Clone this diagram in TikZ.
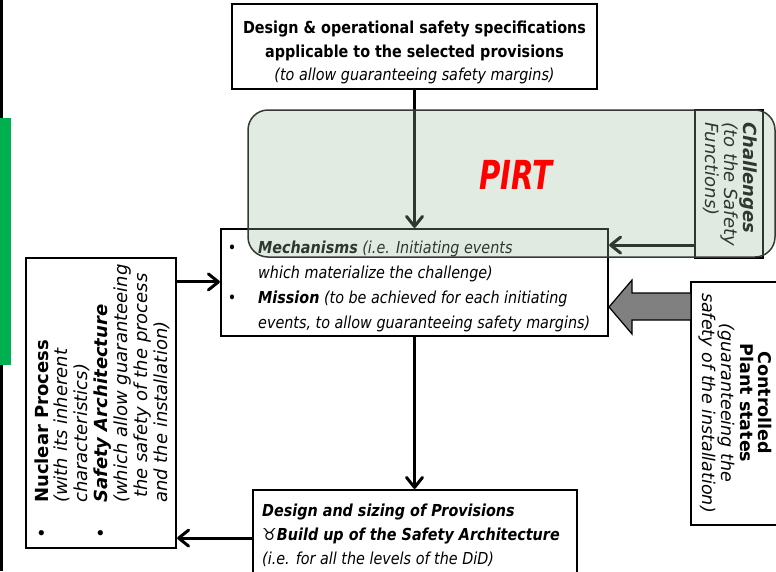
\documentclass[tikz,border=0pt]{standalone}
\usepackage{fontspec}
\setmainfont{DejaVu Sans}[FakeStretch=0.87]
\newfontfamily\plainsans{DejaVu Sans}
\usetikzlibrary{arrows.meta,fit}
\definecolor{pirtfill}{RGB}{158,188,158}
\definecolor{pirtedge}{RGB}{50,58,50}
\definecolor{blockgray}{RGB}{128,128,128}
\definecolor{sidegreen}{RGB}{0,176,80}
\definecolor{pirtred}{RGB}{255,0,0}

\begin{document}
\begin{tikzpicture}[x=1pt,y=-1pt,
  frame/.style={draw=black,line width=2.2pt,fill=white,inner sep=0pt},
  flow/.style={line width=3pt,-{Straight Barb[length=10pt,width=16pt,round]}},
  lline/.style={inner sep=0pt,anchor=base west,font=\fontsize{16.5}{20}\selectfont},
  cline/.style={inner sep=0pt,anchor=base,font=\fontsize{16.5}{20}\selectfont},
  nline/.style={inner sep=0pt,anchor=base west,rotate=90,font=\plainsans\fontsize{18}{20}\selectfont},
  nbullet/.style={inner sep=0pt,anchor=base,rotate=90,font=\plainsans\fontsize{18}{20}\selectfont},
  sline/.style={inner sep=0pt,anchor=base,rotate=-90,font=\plainsans\fontsize{17.5}{20}\selectfont},
  hline/.style={inner sep=0pt,anchor=base west,rotate=-90,font=\plainsans\fontsize{18}{20}\selectfont}
]
\useasboundingbox (0,0) rectangle (776,571);
\clip (0,0) rectangle (776,571);

% left margin strip
\fill[black] (0,0) rectangle (3,571);
\fill[sidegreen] (0,118) rectangle (11,365);

% boxes
\node[frame,fit={(232,4)(597,89)}] (spec) {};
\node[frame,fit={(221,229)(608,336)}] (mech) {};
\node[frame,fit={(695,110)(763,258)}] (chal) {};
\node[frame,fit={(26,258)(176,548)}] (nuc) {};
\node[frame,fit={(253,490)(577,600)}] (prov) {};
\node[frame,fit={(691,282)(800,525)}] (ctrl) {};

% connectors
\coordinate (chalout) at ([yshift=14pt]chal.south west);
\coordinate (nucout) at ([yshift=-25pt]nuc.north east);
\coordinate (nucin) at ([yshift=11pt]nuc.south east);
\draw[flow] (spec.south) -- (spec.south |- mech.north);
\draw[flow] (chalout) -- (chalout -| mech.east);
\draw[flow] (nucout) -- (nucout -| mech.west);
\draw[flow] (mech.south) -- (mech.south |- prov.north);
\draw[flow] (nucin -| prov.west) -- (nucin);

% block arrow from the plant states
\draw[line width=1.2pt,fill=blockgray] (691,293) -- (632,293) -- (632,280) -- (609,307)
  -- (632,334) -- (632,320) -- (691,320) -- cycle;

% specification box text
\node[cline] (spec1) at (414.5,33) {\textbf{Design \& operational safety specifications}};
\node[cline] (spec2) at (414.5,57) {\textbf{applicable to the selected provisions}};
\node[cline] (spec3) at (414.5,80) {\textit{(to allow guaranteeing safety margins)}};

% mechanisms / mission
\node[cline] (mb1) at (232,253) {•};
\node[lline] (m1) at (258,253) {\textbf{\textit{Mechanisms}} \textit{(i.e. Initiating events}};
\node[lline] (m2) at (258,278) {\textit{which materialize the challenge)}};
\node[cline] (mb2) at (232,303) {•};
\node[lline] (m3) at (258,303) {\textbf{\textit{Mission}} \textit{(to be achieved for each initiating}};
\node[lline] (m4) at (258,328) {\textit{events, to allow guaranteeing safety margins)}};

% provisions box text
\node[lline] (p1) at (262,516) {\textbf{\textit{Design and sizing of Provisions}}};
\node[lline] (p2) at (262,540) {\textbf{\textit{{\plainsans ♉}Build up of the Safety Architecture}}};
\node[lline] (p3) at (262,564) {\textit{(i.e. for all the levels of the DiD)}};

% nuclear process box text
\node[nbullet] (nb1) at (48,533) {•};
\node[nbullet] (nb2) at (107,533) {•};
\node[nline] (n1) at (48,503) {\textbf{Nuclear Process}};
\node[nline] (n2) at (67,503) {\textit{(with its inherent}};
\node[nline] (n3) at (87,503) {\textit{characteristics)}};
\node[nline] (n4) at (107,503) {\textbf{\textit{Safety Architecture}}};
\node[nline] (n5) at (127,503) {\textit{(which allow guaranteeing}};
\node[nline] (n6) at (147,498) {\textit{the safety of the process}};
\node[nline] (n7) at (167,503) {\textit{and the installation)}};

% controlled plant states text
\node[sline] (c1) at (758,403) {\textbf{Controlled}};
\node[sline] (c2) at (740,403) {\textbf{Plant states}};
\node[sline] (c3) at (721,403) {\textit{(guaranteeing the}};
\node[sline] (c4) at (702,403) {\textit{safety of the installation)}};

% challenges text
\node[hline] (h1) at (743,122) {\textbf{\textit{Challenges}}};
\node[hline] (h2) at (724,122) {\textit{(to the Safety}};
\node[hline] (h3) at (705,122) {\textit{Functions)}};

% PIRT panel, laid translucently over what lies beneath
\node[draw=pirtedge,line width=1.5pt,rounded corners=20pt,fill=pirtfill,fill opacity=0.3,
  inner sep=0pt,fit={(248,110)(775,257)}] (pirt) {};
\node[inner sep=0pt,text=pirtred,font=\fontsize{40}{44}\selectfont] (pirtlabel) at (517,175)
  {\scalebox{0.84}[1]{\textbf{\textit{PIRT}}}};
\end{tikzpicture}
\end{document}
